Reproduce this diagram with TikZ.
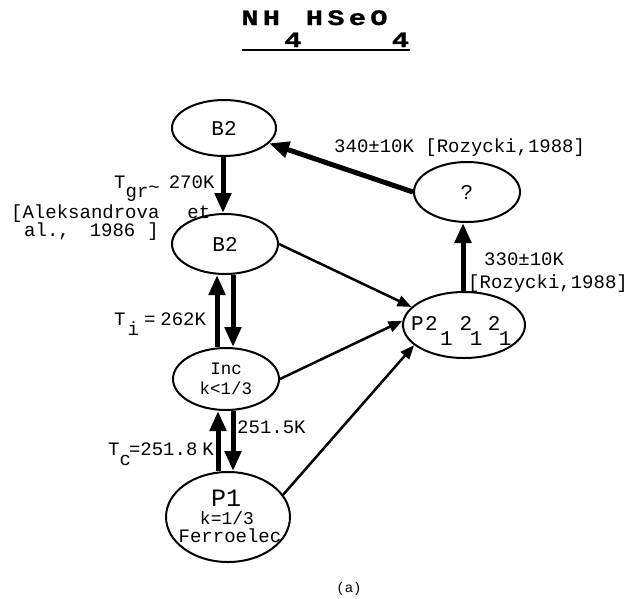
\documentclass[tikz,border=0pt]{standalone}
\usepackage{fontspec}
\setmainfont{Liberation Mono}
\newfontfamily\titlefont{Liberation Mono Bold}[FakeBold=1.2,FakeStretch=1.3]
\usetikzlibrary{shapes.geometric,arrows.meta}
\newcommand{\lowr}[2]{\raisebox{-#1}{#2}}
\newcommand{\tcell}[1]{\makebox[21.5pt][c]{#1}}
\begin{document}
\begin{tikzpicture}[x=1pt,y=-1pt,
  ell/.style={draw, ellipse, line width=2pt, inner sep=0pt},
  thickarr/.style={line width=5pt, -{Triangle[length=20pt,width=16pt]}},
  thinarr/.style={line width=2.5pt, -{Triangle[length=14pt,width=11pt]}},
  lab/.style={font=\fontsize{19}{22}\selectfont, inner sep=0pt, anchor=base west},
  big/.style={font=\fontsize{21}{24}\selectfont}]
\useasboundingbox (0,0) rectangle (639,598);

% title
\node[anchor=base west, inner sep=0pt, font=\fontsize{22}{24}\titlefont] (title) at (239,25) {\tcell{N}\tcell{H}\tcell{\lowr{22pt}{4}}\tcell{H}\tcell{S}\tcell{e}\tcell{O}\tcell{\lowr{22pt}{4}}};
\coordinate (ulA) at (242,50);
\coordinate (ulB) at (410,50);
\draw[line width=2.5pt] (ulA) -- (ulB);

% states
\node[ell, big, minimum width=104pt, minimum height=56pt] (b2a) at (224,128) {B2};
\node[ell, big, minimum width=106pt, minimum height=60pt] (b2b) at (225,244) {B2};
\node[ell, minimum width=106pt, minimum height=62pt, align=center, font=\fontsize{17.5}{20}\selectfont] (inc) at (226,379) {Inc\\k<1/3};
\node[ell, minimum width=124pt, minimum height=90pt] (p1) at (228,517) {};
\node[ell, big, minimum width=106pt, minimum height=60pt] (q) at (467,192) {?};
\node[ell, minimum width=122pt, minimum height=66pt] (p2) at (464,325) {};

% texts of P2 and P1
\node[big, inner sep=0pt, anchor=base west] (p2t) at (411,330) {P\hspace{1.4pt}2\hspace{2.4pt}\lowr{15pt}{1}\hspace{6.9pt}2\hspace{-2.4pt}\lowr{15pt}{1}\hspace{5.4pt}2\hspace{-1.6pt}\lowr{15pt}{1}};
\node[font=\fontsize{25}{28}\selectfont, inner sep=0pt, anchor=base] (p1a) at (226,506) {P1};
\node[font=\fontsize{18}{20}\selectfont, inner sep=0pt, anchor=base] (p1b) at (227,524) {k=1/3};
\node[font=\fontsize{19}{22}\selectfont, inner sep=0pt, anchor=base] (p1c) at (230,542) {Ferroelec};

% labels
\node[lab] (tgr) at (114,188) {T\lowr{9pt}{gr}\lowr{5pt}{\textasciitilde}\hspace{9pt}270K};
\node[lab] (ale1) at (11,218) {[Aleksandrova\hspace{28pt}et};
\node[lab] (ale2) at (24,236) {al.,\hspace{20pt}1986\hspace{12pt}]};
\node[lab] (ti) at (114,325) {T\hspace{2pt}\lowr{10pt}{i}\hspace{5pt}=\hspace{5pt}262K};
\node[lab] (tc) at (108,455) {T\lowr{10pt}{c}\hspace{-2pt}=251.8\hspace{5pt}K};
\node[lab] (l2515) at (237,433) {251.5K};
\node[lab] (l340) at (334,152) {340±10K [Rozycki,1988]};
\node[lab] (l330) at (484,265) {330±10K};
\node[lab] (lroz) at (468,288) {[Rozycki,1988]};
\node[font=\fontsize{14}{16}\selectfont, anchor=base, inner sep=0pt] (cap) at (349,592) {(a)};

% x positions of vertical arrows
\coordinate (xm) at (223,0);
\coordinate (xl) at (217,0);
\coordinate (xr) at (233,0);
\coordinate (xl2) at (218,0);
\coordinate (xq) at (463,0);

% thick arrows
\draw[thickarr] (b2a.south -| xm) -- (b2b.north -| xm);
\draw[thickarr] (q.west) -- (b2a);
\draw[thickarr] (p2.north -| xq) -- (q.south -| xq);
\draw[thickarr] (inc.north -| xl) -- (b2b.south -| xl);
\draw[thickarr] (b2b.south -| xr) -- (inc.north -| xr);
\draw[thickarr] (p1.north -| xl2) -- (inc.south -| xl2);
\draw[thickarr] (inc.south -| xr) -- (p1.north -| xr);

% thin arrows
\draw[thinarr] (b2b.east) -- (p2.161);
\draw[thinarr] (inc.east) -- (p2.176);
\draw[thinarr] (p1.22) -- (p2.202);
\end{tikzpicture}
\end{document}
